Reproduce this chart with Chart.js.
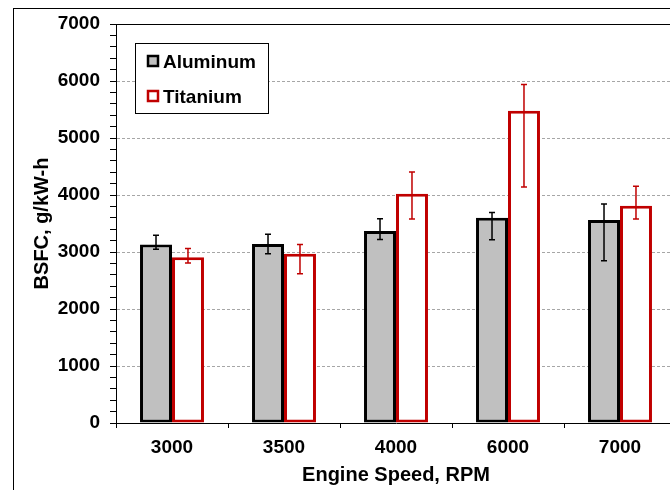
<!DOCTYPE html>
<html>
<head>
<meta charset="utf-8">
<script src="https://cdn.jsdelivr.net/npm/chart.js@4/dist/chart.umd.min.js"></script>
<style>
  html, body { margin: 0; padding: 0; background: #fff; overflow: hidden; width: 670px; height: 490px; }
  #frame { position: absolute; left: 13px; top: 8px; width: 760px; height: 560px; border: 1px solid #000; box-sizing: border-box; }
  #chart { position: absolute; left: 0; top: 0; }
</style>
</head>
<body>
<div id="frame"></div>
<canvas id="chart" width="720" height="500"></canvas>
<script>
// Engine speeds (RPM)
const speeds = ['3000', '3500', '4000', '6000', '7000'];

// Brake specific fuel consumption, g/kW-h
const aluminum = [3130, 3140, 3370, 3600, 3560];
const titanium = [2910, 2970, 4020, 5480, 3810];

// Error bar extents above / below each mean
const aluminumErrUp   = [165, 170, 215, 95, 280];
const aluminumErrDown = [80, 170, 150, 385, 715];
const titaniumErrUp   = [150, 160, 385, 460, 345];
const titaniumErrDown = [105, 350, 440, 1340, 230];

// Y axis range and label values
const yMin = 0, yMax = 7000, yMajor = 1000, yMinor = 200;

const FONT = "Arial, 'Liberation Sans', sans-serif";
const RED = '#C00000';

const errorBars = {
  id: 'errorBars',
  afterDatasetsDraw(chart) {
    const ctx = chart.ctx;
    const y = chart.scales.y;
    chart.data.datasets.forEach((ds, i) => {
      const meta = chart.getDatasetMeta(i);
      ctx.save();
      ctx.strokeStyle = ds.errColor;
      ctx.lineWidth = 1.5;
      meta.data.forEach((bar, j) => {
        const v = ds.data[j];
        const top = y.getPixelForValue(v + ds.errUp[j]);
        const bot = y.getPixelForValue(v - ds.errDown[j]);
        const x = bar.x;
        ctx.beginPath();
        ctx.moveTo(x, top); ctx.lineTo(x, bot);
        ctx.moveTo(x - 3, top); ctx.lineTo(x + 3, top);
        ctx.moveTo(x - 3, bot); ctx.lineTo(x + 3, bot);
        ctx.stroke();
      });
      ctx.restore();
    });
  }
};

const plotFrame = {
  id: 'plotFrame',
  afterDraw(chart) {
    const ctx = chart.ctx;
    const a = chart.chartArea;
    ctx.save();
    ctx.strokeStyle = '#000';
    ctx.lineWidth = 1;
    ctx.beginPath();
    ctx.moveTo(a.left, a.top + 0.5);
    ctx.lineTo(a.right, a.top + 0.5);
    ctx.stroke();

    // legend box
    const bx = 135, by = 43, bw = 133, bh = 70;
    ctx.fillStyle = '#fff';
    ctx.fillRect(bx, by, bw, bh);
    ctx.strokeRect(bx + 0.5, by + 0.5, bw, bh);
    ctx.font = 'bold 19px ' + FONT;
    ctx.textBaseline = 'alphabetic';
    chart.data.datasets.forEach((ds, i) => {
      const cy = 61 + i * 35;
      ctx.fillStyle = ds.backgroundColor;
      ctx.fillRect(148, cy - 5, 10, 10);
      ctx.lineWidth = 2.5;
      ctx.strokeStyle = ds.borderColor;
      ctx.strokeRect(148, cy - 5, 10, 10);
      ctx.fillStyle = '#000';
      ctx.fillText(ds.label, 163, cy + 6.5);
    });
    ctx.restore();
  }
};

new Chart(document.getElementById('chart'), {
  type: 'bar',
  data: {
    labels: speeds,
    datasets: [
      {
        label: 'Aluminum', data: aluminum,
        backgroundColor: '#C0C0C0', borderColor: '#000', borderWidth: 3,
        borderSkipped: false,
        errUp: aluminumErrUp, errDown: aluminumErrDown, errColor: '#000'
      },
      {
        label: 'Titanium', data: titanium,
        backgroundColor: '#FFFFFF', borderColor: RED, borderWidth: 3,
        borderSkipped: false,
        errUp: titaniumErrUp, errDown: titaniumErrDown, errColor: RED
      }
    ]
  },
  options: {
    responsive: false,
    animation: false,
    devicePixelRatio: 1,
    categoryPercentage: 0.571,
    barPercentage: 1,
    layout: { padding: { top: 24, right: 44, bottom: 0, left: 0 } },
    plugins: { legend: { display: false }, tooltip: { enabled: false } },
    scales: {
      x: {
        offset: true,
        grid: { offset: true, drawOnChartArea: false, tickLength: 5, color: '#000', tickColor: '#000', lineWidth: 1 },
        border: { color: '#000', width: 1 },
        ticks: { color: '#000', font: { family: FONT, size: 19, weight: 'bold' }, padding: 8 },
        title: { display: true, text: 'Engine Speed, RPM', color: '#000',
                 font: { family: FONT, size: 20, weight: 'bold' }, padding: { top: 0, bottom: 13 } },
        afterFit(s) { s.height = 77; }
      },
      y: {
        min: yMin, max: yMax,
        grid: {
          tickLength: 6,
          lineWidth: 1,
          color: c => (c.tick && c.tick.value % yMajor === 0 && c.tick.value !== yMin && c.tick.value !== yMax) ? '#A6A6A6' : 'rgba(0,0,0,0)',
          tickColor: '#000'
        },
        border: { color: '#000', width: 1, dash: [3, 2] },
        ticks: {
          stepSize: yMinor, autoSkip: false, color: '#000',
          font: { family: FONT, size: 19, weight: 'bold' }, padding: 10,
          callback: v => (v % yMajor === 0 ? String(v) : '')
        },
        title: { display: true, text: 'BSFC, g/kW-h', color: '#000',
                 font: { family: FONT, size: 20, weight: 'bold' }, padding: { top: 30, bottom: 0 } },
        afterFit(s) { s.width = 116; }
      }
    }
  },
  plugins: [errorBars, plotFrame]
});
</script>
</body>
</html>
